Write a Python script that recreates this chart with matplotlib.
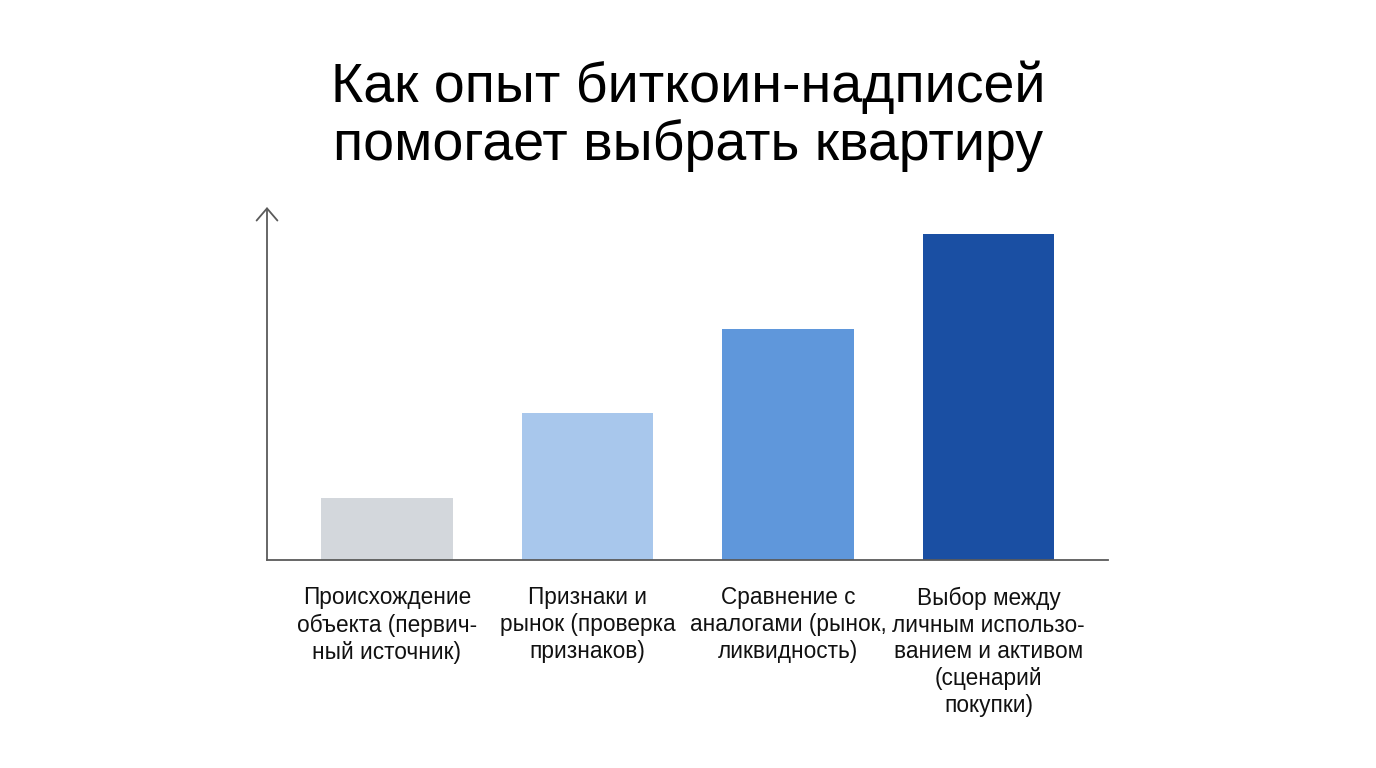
import matplotlib
matplotlib.use("Agg")
import matplotlib.pyplot as plt

plt.rcParams['font.family'] = ['Liberation Sans', 'DejaVu Sans']

TITLE = "Как опыт биткоин-надписей\nпомогает выбрать квартиру"
categories = [
    "Происхождение\nобъекта (первич-\nный источник)",
    "Признаки и\nрынок (проверка\nпризнаков)",
    "Сравнение с\nаналогами (рынок,\nликвидность)",
    "Выбор между\nличным использо-\nванием и активом\n(сценарий\nпокупки)",
]
values = [19, 45, 71, 100]
colors = ["#d3d7dc", "#a8c7ec", "#5f97db", "#1a4fa3"]

fig = plt.figure(figsize=(13.76, 7.68), dpi=100)
ax = fig.add_axes([267 / 1376, 1 - 560 / 768, (1108 - 267) / 1376, (560 - 207) / 768])

x = list(range(len(values)))
ax.bar(x, values, width=0.658, color=colors)

ax.set_xlim(-0.5985, 3.596)
ax.set_ylim(0, 108.3)

for s in ("top", "right", "left"):
    ax.spines[s].set_visible(False)
ax.spines["bottom"].set_color("#5a5a5a")
ax.spines["bottom"].set_linewidth(1.3)
ax.annotate("", xy=(0, 1.0), xytext=(0, 0), xycoords="axes fraction",
            arrowprops=dict(arrowstyle="->,head_length=0.35,head_width=0.3",
                            color="#5a5a5a", lw=1.3,
                            mutation_scale=25, shrinkA=0, shrinkB=0))

ax.set_yticks([])
ax.set_xticks(x)
ax.set_xticklabels(categories, fontsize=16.3, linespacing=1.22, color="#111111")
ax.tick_params(axis="x", length=0, pad=19)

fig.text(0.5, 1 - 60 / 768, TITLE, ha="center", va="top", fontsize=40,
         linespacing=1.13, color="#000000")

fig.savefig("out.png", dpi=100, facecolor="white")
